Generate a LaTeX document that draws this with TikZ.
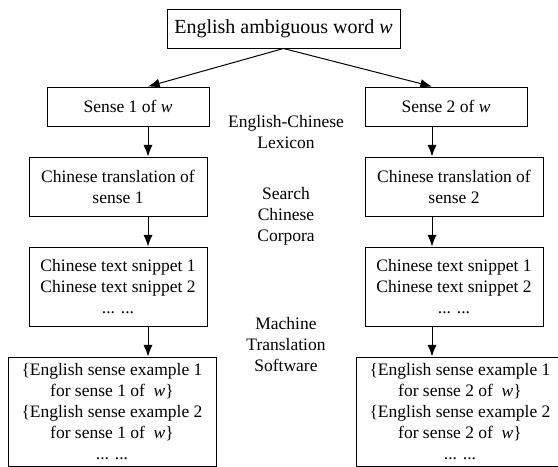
\documentclass[tikz,border=0pt]{standalone}
\usepackage{fontspec}
\setmainfont{Liberation Serif}
\usetikzlibrary{arrows.meta, positioning}
\tikzstyle{wordbox} = [
	rectangle,
	minimum width=139.8pt,
	minimum height=23.4pt,
	text centered,
	draw=black,
	font=\fontsize{12}{14}\selectfont
]
\tikzstyle{sensebox} = [
	rectangle,
	minimum width=97.2pt,
	minimum height=23.4pt,
	text centered,
	draw=black
]
\tikzstyle{transbox} = [
	rectangle,
	minimum width=106.8pt,
	minimum height=35.4pt,
	align=center,
	draw=black
]
\tikzstyle{snipbox} = [
	rectangle,
	minimum width=106.8pt,
	minimum height=47.4pt,
	align=center,
	draw=black
]
\tikzstyle{examplebox} = [
	rectangle,
	minimum width=124.8pt,
	inner ysep=4pt,
	align=center,
	draw=black
]
\tikzstyle{steplabel} = [align=center]
\tikzstyle{arrow} = [-{Latex[length=7pt,width=5.5pt]}]

\begin{document}
\begin{tikzpicture}[x=0.6pt, y=-0.6pt, line width=0.6pt, node distance=18pt,
		font=\fontsize{10.5}{12.6}\selectfont]
		\useasboundingbox (0,0) rectangle (558,466);
		\clip (0,0) rectangle (558,466);
		\coordinate (colL) at (148,0);
		\coordinate (colR) at (432,0);

		\node (word) [wordbox] at (283.5,28.5) {English ambiguous word \textit{w}};
		\node (sense1) [sensebox] at (128,106.5) {Sense 1 of \textit{w}};
		\node (sense2) [sensebox] at (446,106.5) {Sense 2 of \textit{w}};
		\node (trans1) [transbox, below=of sense1, xshift=-6pt] {Chinese translation of\\sense 1};
		\node (trans2) [transbox, below=of sense2, xshift=4.8pt] {Chinese translation of\\sense 2};
		\node (snip1) [snipbox, below=of trans1] {Chinese text snippet 1\\Chinese text snippet 2\\... ...};
		\node (snip2) [snipbox, below=of trans2] {Chinese text snippet 1\\Chinese text snippet 2\\... ...};
		\node (ex1) [examplebox, below=of snip1, xshift=-3.6pt] {\{English sense example 1\\for sense 1 of~ \textit{w}\}\\\{English sense example 2\\for sense 1 of~ \textit{w}\}\\... ...};
		\node (ex2) [examplebox, below=of snip2, xshift=3.6pt] {\{English sense example 1\\for sense 2 of~ \textit{w}\}\\\{English sense example 2\\for sense 2 of~ \textit{w}\}\\... ...};

		\node (lexicon) [steplabel] at (286,132) {English-Chinese\\Lexicon};
		\node (search) [steplabel] at (286,216) {Search\\Chinese\\Corpora};
		\node (mt) [steplabel] at (286,345) {Machine\\Translation\\Software};

		\draw [arrow] (word.south) -- (sense1.north -| colL);
		\draw [arrow] (word.south) -- (sense2.north -| colR);
		\draw [arrow] (sense1.south -| colL) -- (trans1.north -| colL);
		\draw [arrow] (sense2.south -| colR) -- (trans2.north -| colR);
		\draw [arrow] (trans1.south -| colL) -- (snip1.north -| colL);
		\draw [arrow] (trans2.south -| colR) -- (snip2.north -| colR);
		\draw [arrow] (snip1.south -| colL) -- (ex1.north -| colL);
		\draw [arrow] (snip2.south -| colR) -- (ex2.north -| colR);
	\end{tikzpicture}
\end{document}
